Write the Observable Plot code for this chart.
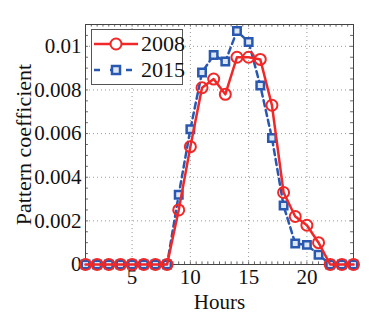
<!DOCTYPE html>
<html>
<head>
<meta charset="utf-8">
<script src="https://cdn.jsdelivr.net/npm/d3@7"></script>
<script src="https://cdn.jsdelivr.net/npm/@observablehq/plot@0.6"></script>
<style>
  html, body { margin: 0; padding: 0; background: #fff; }
  #wrap { position: relative; width: 390px; height: 314px; }
  #wrap svg, #wrap svg text { font-family: 'Liberation Serif', 'Times New Roman', serif !important; }
  #legend { position: absolute; left: 91px; top: 29px; width: 90px; height: 54px;
    border: 1px solid #555; background: #fff; font-family: 'Liberation Serif', 'Times New Roman', serif; font-size: 22px; color: #111; }
  .row { position: absolute; left: 0; height: 26px; display: flex; align-items: center; }
  .row span { margin-left: 1px; }
</style>
</head>
<body>
<div id="wrap"></div>
<script>
const hours = d3.range(1, 25);
const series2008 = [0,0,0,0,0,0,0,0,0.0025,0.0054,0.0081,0.0085,0.0078,0.0095,0.0095,0.0094,0.0073,0.0033,0.0022,0.0018,0.0010,0,0,0];
const series2015 = [0,0,0,0,0,0,0,0,0.0032,0.0062,0.0088,0.0096,0.0093,0.0107,0.0102,0.0082,0.0058,0.0027,0.00096,0.0009,0.00045,0,0,0];
const xTicks = [5, 10, 15, 20];
const yTicks = [0, 0.002, 0.004, 0.006, 0.008, 0.01];
const yTickLabels = ["0", "0.002", "0.004", "0.006", "0.008", "0.01"];
const seriesNames = ["2008", "2015"];
const colors = ["#f02828", "#2858b0"];

const d08 = hours.map((h, i) => ({hour: h, v: series2008[i]}));
const d15 = hours.map((h, i) => ({hour: h, v: series2015[i]}));
const xMinor = d3.range(1, 24.01, 0.5);
const yMinor = d3.range(0, 0.01101, 0.0005);

const chart = Plot.plot({
  width: 390,
  height: 314,
  marginLeft: 85,
  marginRight: 37,
  marginTop: 24,
  marginBottom: 50,
  style: {fontFamily: "'Liberation Serif', 'Times New Roman', serif", fontSize: "21px", color: "#111", background: "#fff"},
  x: {domain: [1, 24]},
  y: {domain: [0, 0.011]},
  marks: [
    Plot.gridX(xTicks, {stroke: "#999", strokeOpacity: 1, strokeDasharray: "1,3", strokeWidth: 1}),
    Plot.gridY(yTicks.filter(d => d > 0), {stroke: "#999", strokeOpacity: 1, strokeDasharray: "1,3", strokeWidth: 1}),
    Plot.ruleX(xMinor, {x: d => d, y1: 0, y2: 0.00012, stroke: "#666"}),
    Plot.ruleX(xMinor, {x: d => d, y1: 0.011, y2: 0.01088, stroke: "#666"}),
    Plot.ruleY(yMinor, {y: d => d, x1: 1, x2: 1.25, stroke: "#666"}),
    Plot.ruleY(yMinor, {y: d => d, x1: 24, x2: 23.75, stroke: "#666"}),
    Plot.frame({stroke: "#444", strokeWidth: 1}),
    Plot.axisX(xTicks, {tickSize: 0, tickPadding: 5, fontSize: 21, label: null}),
    Plot.axisY(yTicks, {tickSize: 0, tickPadding: 4, fontSize: 21, label: null, tickFormat: (d, i) => yTickLabels[i]}),
    Plot.text(["Hours"], {frameAnchor: "bottom", dy: 38, lineAnchor: "middle", fontSize: 21, text: d => d}),
    Plot.text(["Pattern coefficient"], {frameAnchor: "left", dx: -62, dy: 0, rotate: -90, textAnchor: "middle", lineAnchor: "middle", fontSize: 22, text: d => d}),
    Plot.line(d15, {x: "hour", y: "v", stroke: colors[1], strokeWidth: 2.5, strokeDasharray: "6,4"}),
    Plot.dot(d15, {x: "hour", y: "v", symbol: "square", r: 4.2, stroke: colors[1], strokeWidth: 2.5, fill: "#dde6f5"}),
    Plot.line(d08, {x: "hour", y: "v", stroke: colors[0], strokeWidth: 2.5}),
    Plot.dot(d08, {x: "hour", y: "v", r: 5.5, stroke: colors[0], strokeWidth: 2, fill: "none"})
  ]
});

const wrap = document.getElementById("wrap");
wrap.appendChild(chart);

const legend = document.createElement("div");
legend.id = "legend";
const rows = [
  `<svg width="48" height="20"><line x1="2" y1="10" x2="46" y2="10" stroke="${colors[0]}" stroke-width="2.5"/><circle cx="24" cy="10" r="5.5" fill="#fff" stroke="${colors[0]}" stroke-width="2"/></svg>`,
  `<svg width="48" height="20"><line x1="2" y1="10" x2="46" y2="10" stroke="${colors[1]}" stroke-width="2.5" stroke-dasharray="6,10"/><rect x="20" y="6" width="8" height="8" fill="#dde6f5" stroke="${colors[1]}" stroke-width="2.5"/></svg>`
];
seriesNames.forEach((name, i) => {
  const r = document.createElement("div");
  r.className = "row";
  r.style.top = (1 + i * 26) + "px";
  r.innerHTML = rows[i] + `<span>${name}</span>`;
  legend.appendChild(r);
});
wrap.appendChild(legend);
</script>
</body>
</html>
